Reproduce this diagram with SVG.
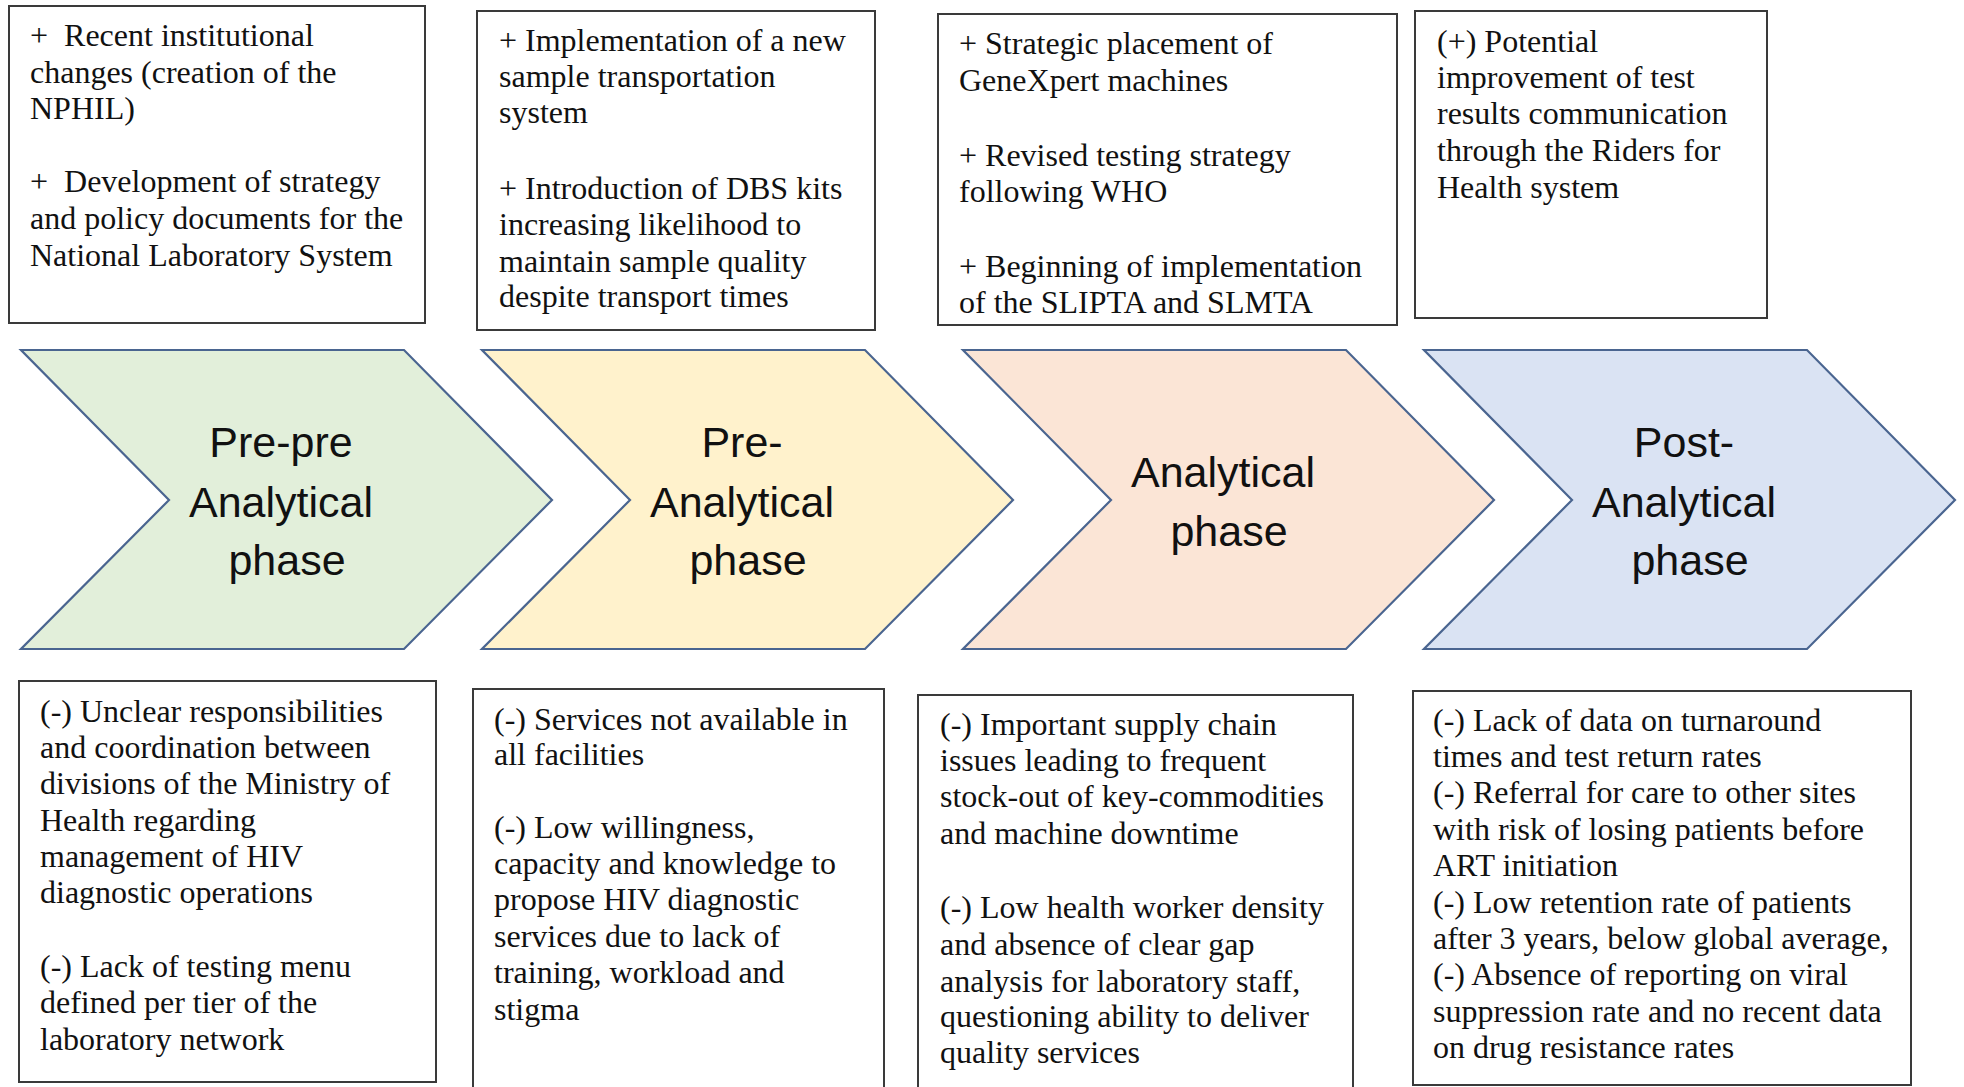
<svg xmlns="http://www.w3.org/2000/svg" width="1964" height="1087" viewBox="0 0 1964 1087">
  <style>
    .box { fill: #ffffff; stroke: #3a3a3a; stroke-width: 2; }
    .note { font-family: "Liberation Serif", "Times New Roman", serif; font-size: 32px; fill: #111111; }
    .chev { stroke: #4a6590; stroke-width: 2.2; stroke-linejoin: miter; }
    .phase { font-family: "Liberation Sans", Arial, sans-serif; font-size: 43px; fill: #111111; text-anchor: middle; }
  </style>
  <rect width="1964" height="1087" fill="#ffffff"/>

  <!-- strengths above each phase -->
  <g id="plus-pre-pre">
    <rect class="box" x="9" y="6" width="416" height="317"/>
    <text class="note">
      <tspan x="30" y="46">+&#160; Recent institutional</tspan>
      <tspan x="30" y="83">changes (creation of the</tspan>
      <tspan x="30" y="119">NPHIL)</tspan>
      <tspan x="30" y="192">+&#160; Development of strategy</tspan>
      <tspan x="30" y="229">and policy documents for the</tspan>
      <tspan x="30" y="266">National Laboratory System</tspan>
    </text>
  </g>
  <g id="plus-pre">
    <rect class="box" x="477" y="11" width="398" height="319"/>
    <text class="note">
      <tspan x="499" y="51">+ Implementation of a new</tspan>
      <tspan x="499" y="87">sample transportation</tspan>
      <tspan x="499" y="123">system</tspan>
      <tspan x="499" y="199">+ Introduction of DBS kits</tspan>
      <tspan x="499" y="235">increasing likelihood to</tspan>
      <tspan x="499" y="272">maintain sample quality</tspan>
      <tspan x="499" y="307">despite transport times</tspan>
    </text>
  </g>
  <g id="plus-analytical">
    <rect class="box" x="938" y="14" width="459" height="311"/>
    <text class="note">
      <tspan x="959" y="54">+ Strategic placement of</tspan>
      <tspan x="959" y="91">GeneXpert machines</tspan>
      <tspan x="959" y="166">+ Revised testing strategy</tspan>
      <tspan x="959" y="202">following WHO</tspan>
      <tspan x="959" y="277">+ Beginning of implementation</tspan>
      <tspan x="959" y="313">of the SLIPTA and SLMTA</tspan>
    </text>
  </g>
  <g id="plus-post">
    <rect class="box" x="1415" y="11" width="352" height="307"/>
    <text class="note">
      <tspan x="1437" y="52">(+) Potential</tspan>
      <tspan x="1437" y="88">improvement of test</tspan>
      <tspan x="1437" y="124">results communication</tspan>
      <tspan x="1437" y="161">through the Riders for</tspan>
      <tspan x="1437" y="198">Health system</tspan>
    </text>
  </g>

  <!-- phase chevrons -->
  <g id="phase-pre-pre">
    <polygon class="chev" fill="#e2efda" points="21,350 404,350 552,500 404,649 21,649 169,500"/>
    <text class="phase">
      <tspan x="287" y="457">Pre-pre</tspan>
      <tspan x="287" y="517">Analytical</tspan>
      <tspan x="287" y="575">phase</tspan>
    </text>
  </g>
  <g id="phase-pre">
    <polygon class="chev" fill="#fff2cc" points="482,350 865,350 1013,500 865,649 482,649 630,500"/>
    <text class="phase">
      <tspan x="748" y="457">Pre-</tspan>
      <tspan x="748" y="517">Analytical</tspan>
      <tspan x="748" y="575">phase</tspan>
    </text>
  </g>
  <g id="phase-analytical">
    <polygon class="chev" fill="#fbe5d6" points="963,350 1346,350 1494,500 1346,649 963,649 1111,500"/>
    <text class="phase">
      <tspan x="1229" y="487">Analytical</tspan>
      <tspan x="1229" y="546">phase</tspan>
    </text>
  </g>
  <g id="phase-post">
    <polygon class="chev" fill="#dae3f3" points="1424,350 1807,350 1955,500 1807,649 1424,649 1572,500"/>
    <text class="phase">
      <tspan x="1690" y="457">Post-</tspan>
      <tspan x="1690" y="517">Analytical</tspan>
      <tspan x="1690" y="575">phase</tspan>
    </text>
  </g>

  <!-- weaknesses below each phase -->
  <g id="minus-pre-pre">
    <rect class="box" x="19" y="681" width="417" height="401"/>
    <text class="note">
      <tspan x="40" y="722">(-) Unclear responsibilities</tspan>
      <tspan x="40" y="758">and coordination between</tspan>
      <tspan x="40" y="794">divisions of the Ministry of</tspan>
      <tspan x="40" y="831">Health regarding</tspan>
      <tspan x="40" y="867">management of HIV</tspan>
      <tspan x="40" y="903">diagnostic operations</tspan>
      <tspan x="40" y="977">(-) Lack of testing menu</tspan>
      <tspan x="40" y="1013">defined per tier of the</tspan>
      <tspan x="40" y="1050">laboratory network</tspan>
    </text>
  </g>
  <g id="minus-pre">
    <rect class="box" x="473" y="689" width="411" height="410"/>
    <text class="note">
      <tspan x="494" y="730">(-) Services not available in</tspan>
      <tspan x="494" y="765">all facilities</tspan>
      <tspan x="494" y="838">(-) Low willingness,</tspan>
      <tspan x="494" y="874">capacity and knowledge to</tspan>
      <tspan x="494" y="910">propose HIV diagnostic</tspan>
      <tspan x="494" y="947">services due to lack of</tspan>
      <tspan x="494" y="983">training, workload and</tspan>
      <tspan x="494" y="1020">stigma</tspan>
    </text>
  </g>
  <g id="minus-analytical">
    <rect class="box" x="918" y="695" width="435" height="404"/>
    <text class="note">
      <tspan x="940" y="735">(-) Important supply chain</tspan>
      <tspan x="940" y="771">issues leading to frequent</tspan>
      <tspan x="940" y="807">stock-out of key-commodities</tspan>
      <tspan x="940" y="844">and machine downtime</tspan>
      <tspan x="940" y="918">(-) Low health worker density</tspan>
      <tspan x="940" y="955">and absence of clear gap</tspan>
      <tspan x="940" y="992">analysis for laboratory staff,</tspan>
      <tspan x="940" y="1027">questioning ability to deliver</tspan>
      <tspan x="940" y="1063">quality services</tspan>
    </text>
  </g>
  <g id="minus-post">
    <rect class="box" x="1413" y="691" width="498" height="394"/>
    <text class="note">
      <tspan x="1433" y="731">(-) Lack of data on turnaround</tspan>
      <tspan x="1433" y="767">times and test return rates</tspan>
      <tspan x="1433" y="803">(-) Referral for care to other sites</tspan>
      <tspan x="1433" y="840">with risk of losing patients before</tspan>
      <tspan x="1433" y="876">ART initiation</tspan>
      <tspan x="1433" y="913">(-) Low retention rate of patients</tspan>
      <tspan x="1433" y="949">after 3 years, below global average,</tspan>
      <tspan x="1433" y="985">(-) Absence of reporting on viral</tspan>
      <tspan x="1433" y="1022">suppression rate and no recent data</tspan>
      <tspan x="1433" y="1058">on drug resistance rates</tspan>
    </text>
  </g>

  <!-- the phases are drawn as abutting chevrons; no separate connectors -->
  <g id="connectors"/>
</svg>
